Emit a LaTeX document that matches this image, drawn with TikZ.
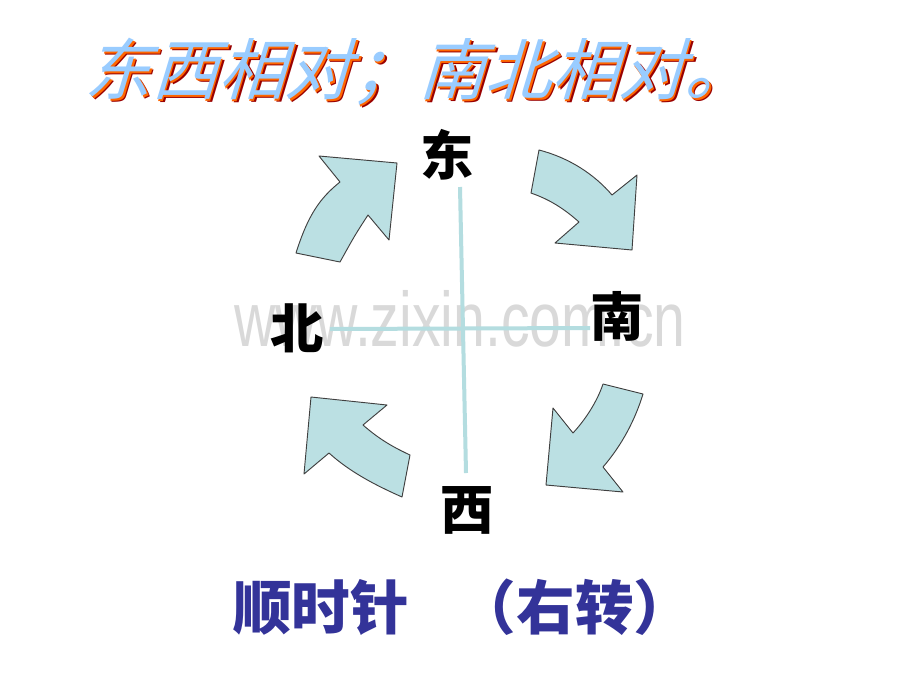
\documentclass[tikz,border=0pt]{standalone}
\usepackage{fontspec}
\newfontfamily\cjk{Noto Sans CJK SC}
\newfontfamily\cjktitle[FakeSlant=0.3]{Noto Sans CJK SC}
\newfontfamily\wmfont{Liberation Sans}
\definecolor{crossblue}{HTML}{B4DDE0}
\definecolor{arrowfill}{HTML}{BBE0E3}
\definecolor{titleblue}{HTML}{99CCFF}
\definecolor{titleorange}{HTML}{FF6600}
\definecolor{titlered}{HTML}{990000}
\definecolor{noteblue}{HTML}{333399}
\tikzset{
  dirlabel/.style={font=\cjk\bfseries\fontsize{40}{40}\selectfont, text=black, inner sep=0pt},
  turnarrow/.style={fill=arrowfill, draw=black!75, line width=0.7pt, line join=round},
  titletext/.style={font=\cjktitle\fontsize{50}{50}\selectfont, inner sep=0pt}
}
\begin{document}
\begin{tikzpicture}[x=0.75pt,y=-0.75pt]
  \useasboundingbox[fill=white] (0,0) rectangle (920,690);

  \node[titletext, text=titlered] at (421,75) {东西相对；南北相对。};
  \node[titletext, text=titleorange] at (419.5,73.5) {东西相对；南北相对。};
  \node[titletext, text=titleblue] (title) at (418,72) {东西相对；南北相对。};

  \node[text=black!15, font=\wmfont\fontsize{58}{58}\selectfont, inner sep=0pt, anchor=base]
    (mark) at (460,346) {\scalebox{0.74}[1]{www.zixin.com.cn}};

  \coordinate (top) at (460,187);
  \coordinate (bottom) at (466,473);
  \coordinate (left) at (330,329);
  \coordinate (right) at (590,328);
  \draw[crossblue, line width=3pt] (top) -- (bottom);
  \draw[crossblue, line width=3pt] (left) -- (right);

  \node[dirlabel] (east) at (447,155) {东};
  \node[dirlabel] (north) at (297,328) {北};
  \node[dirlabel] (south) at (617,316) {南};
  \node[dirlabel] (west) at (467,510) {西};

  \draw[turnarrow] (319,156) -- (397,163) -- (389,240) -- (368,215)
    .. controls (355,235) .. (340,262) -- (296,253)
    .. controls (308,215) and (320,198) .. (340,182) -- cycle;
  \draw[turnarrow] (539,150) .. controls (570,158) and (595,175) .. (612,195)
    -- (637,175) -- (632,250) -- (555,243) -- (579,222)
    .. controls (560,205) and (545,198) .. (531,193) -- cycle;
  \draw[turnarrow] (311,397) -- (387,405) -- (363,425)
    .. controls (380,440) and (395,448) .. (410,455) -- (402,497)
    .. controls (375,485) and (350,472) .. (329,453) -- (304,474) -- cycle;
  \draw[turnarrow] (603,384) -- (643,394)
    .. controls (635,420) and (622,445) .. (603,467) -- (623,492)
    -- (546,485) -- (553,408) -- (573,433)
    .. controls (585,420) and (597,402) .. (603,384) -- cycle;

  \node[font=\cjk\bfseries\fontsize{44}{44}\selectfont, text=noteblue, inner sep=0pt]
    (clockwise) at (321,607) {顺时针};
  \node[font=\cjk\bfseries\fontsize{44}{44}\selectfont, text=noteblue, inner sep=0pt]
    (rightturn) at (575,607) {（右转）};
\end{tikzpicture}
\end{document}
